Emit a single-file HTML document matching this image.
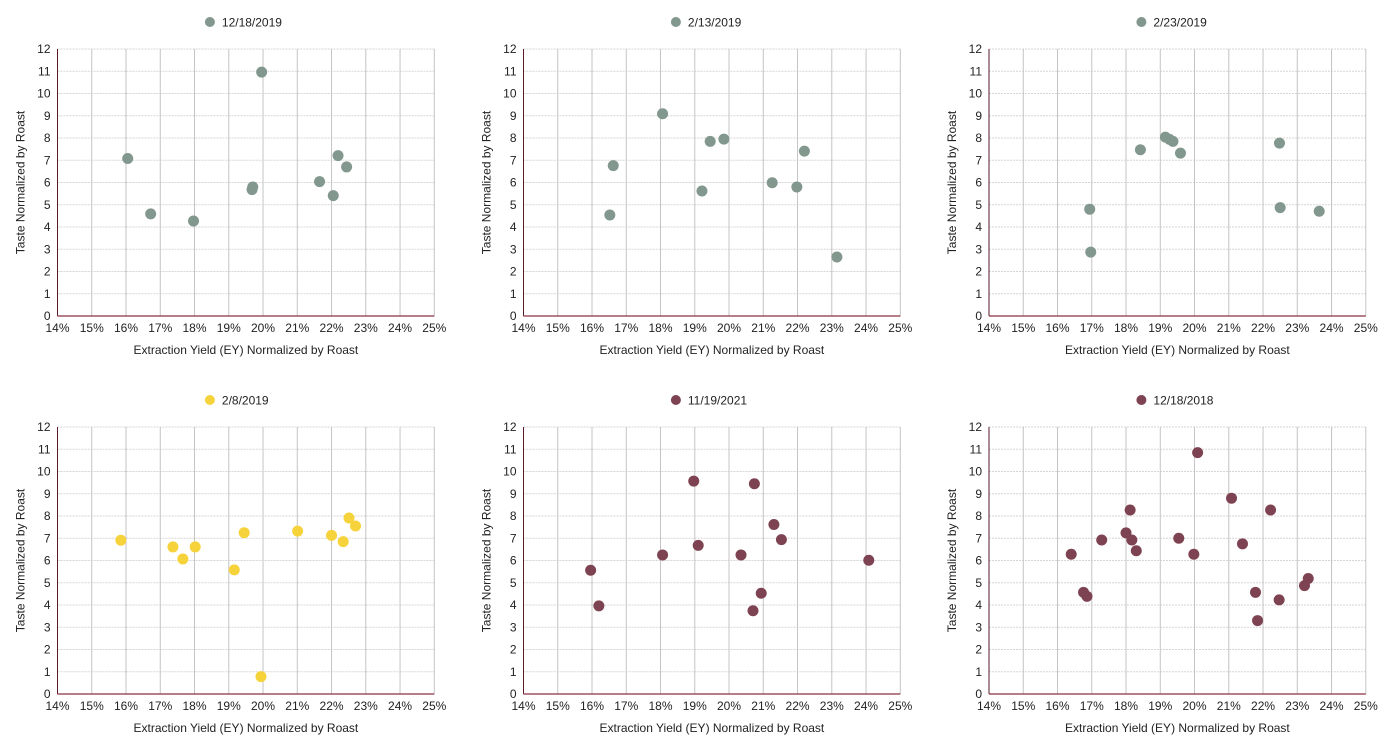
<!DOCTYPE html>
<html><head><meta charset="utf-8">
<style>
html,body{margin:0;padding:0;background:#fff;}
svg{display:block;font-family:"Liberation Sans",Arial,sans-serif;}
</style></head>
<body>
<svg id="chart" width="1400" height="756" viewBox="0 0 1400 756"></svg>
<script>
const panelTitles = ["12/18/2019","2/13/2019","2/23/2019","2/8/2019","11/19/2021","12/18/2018"];
const panelColors = ["#82978d","#82978d","#82978d","#f6d33a","#7e4352","#7e4352"];
const xTicks = [14,15,16,17,18,19,20,21,22,23,24,25];
const yTicks = [0,1,2,3,4,5,6,7,8,9,10,11,12];
const p1x = [16.05,16.72,17.97,19.68,19.70,19.96,21.65,22.05,22.19,22.44];
const p1y = [7.08,4.59,4.27,5.68,5.80,10.96,6.04,5.41,7.21,6.70];
const p2x = [16.52,16.62,18.06,19.21,19.45,19.85,21.26,21.98,22.20,23.15];
const p2y = [4.54,6.76,9.09,5.62,7.85,7.95,5.99,5.80,7.41,2.65];
const p3x = [16.94,16.97,18.42,19.15,19.27,19.37,19.59,22.48,22.50,23.64];
const p3y = [4.80,2.87,7.47,8.04,7.94,7.85,7.32,7.77,4.87,4.71];
const p4x = [15.85,17.37,17.66,18.02,19.16,19.45,19.94,21.01,22.00,22.34,22.51,22.70];
const p4y = [6.91,6.61,6.07,6.61,5.58,7.25,0.78,7.32,7.13,6.85,7.91,7.55];
const p5x = [15.96,16.20,18.06,18.97,19.10,20.35,20.74,21.31,21.53,20.94,20.70,24.08];
const p5y = [5.56,3.96,6.25,9.57,6.68,6.25,9.45,7.62,6.94,4.53,3.74,6.01];
const p6x = [16.40,16.76,16.86,17.29,18.00,18.12,18.17,18.30,19.54,19.98,20.09,21.08,21.40,21.78,21.84,22.22,22.47,23.21,23.32];
const p6y = [6.28,4.57,4.39,6.92,7.24,8.27,6.92,6.44,7.00,6.28,10.85,8.80,6.75,4.57,3.30,8.27,4.23,4.87,5.19];
const seriesX = [p1x,p2x,p3x,p4x,p5x,p6x];
const seriesY = [p1y,p2y,p3y,p4y,p5y,p6y];

const NS = "http://www.w3.org/2000/svg";
const svg = document.getElementById("chart");
function mk(tag, attrs, parent){
  const e = document.createElementNS(NS, tag);
  for (const k in attrs) e.setAttribute(k, attrs[k]);
  parent.appendChild(e);
  return e;
}
const colX0 = [57.5, 523.5, 989];
const rowY0 = [49, 427];
const PW = 376.8, PH = 267;

for (let p = 0; p < 6; p++) {
  const x0 = colX0[p % 3], y0 = rowY0[Math.floor(p / 3)];
  const sx = v => x0 + (v - 14) / 11 * PW;
  const sy = v => y0 + PH - v / 12 * PH;
  const g = mk("g", {}, svg);
  
  
  yTicks.forEach(t => {
    if (t === 0) return;
    const l = mk("line", {x1:x0, x2:x0+PW, y1:sy(t), y2:sy(t), stroke:"#d6d6d6", "stroke-width":1, "stroke-dasharray":"2,1"}, g);
    
    
  });
  xTicks.forEach(t => {
    if (t === 14) return;
    const l = mk("line", {x1:sx(t), x2:sx(t), y1:y0, y2:y0+PH, stroke:"#c4c4c4", "stroke-width":1}, g);
    
    
  });
  const ya = mk("line", {x1:x0, x2:x0, y1:y0, y2:y0+PH, stroke:"#5a1a28", "stroke-width":1}, g);
  
  
  const xa = mk("line", {x1:x0, x2:x0+PW, y1:y0+PH, y2:y0+PH, stroke:"#8a3040", "stroke-width":1.2}, g);
  
  
  yTicks.forEach(t => {
    const tx = mk("text", {x:x0-7, y:sy(t)+4, "text-anchor":"end", "font-size":12, fill:"#222"}, g);
    tx.textContent = t;
    
    
  });
  xTicks.forEach(t => {
    const tx = mk("text", {x:sx(t), y:y0+PH+16, "text-anchor":"middle", "font-size":12, fill:"#222"}, g);
    tx.textContent = t + "%";
    
    
  });
  const xt = mk("text", {x:x0+PW/2, y:y0+PH+38, "text-anchor":"middle", "font-size":12, fill:"#222"}, g);
  xt.textContent = "Extraction Yield (EY) Normalized by Roast";
  
  
  const cy = y0 + PH/2;
  const yt = mk("text", {x:x0-33, y:cy, "text-anchor":"middle", "font-size":12, fill:"#222", transform:"rotate(-90 "+(x0-33)+" "+cy+")"}, g);
  yt.textContent = "Taste Normalized by Roast";
  
  
  const lg = mk("g", {}, g);
  
  
  const lx = x0 + PW/2 - 36, ly = y0 - 27;
  mk("circle", {cx:lx, cy:ly, r:5, fill:panelColors[p]}, lg);
  const lt = mk("text", {x:lx+12, y:ly+4.5, "font-size":12, fill:"#222"}, lg);
  lt.textContent = panelTitles[p];
  
  
  const xs = seriesX[p], ys = seriesY[p];
  for (let i = 0; i < xs.length; i++) {
    const c = mk("circle", {cx:sx(xs[i]), cy:sy(ys[i]), r:5.5, fill:panelColors[p]}, g);
    
    
  }
}
</script>
</body></html>
